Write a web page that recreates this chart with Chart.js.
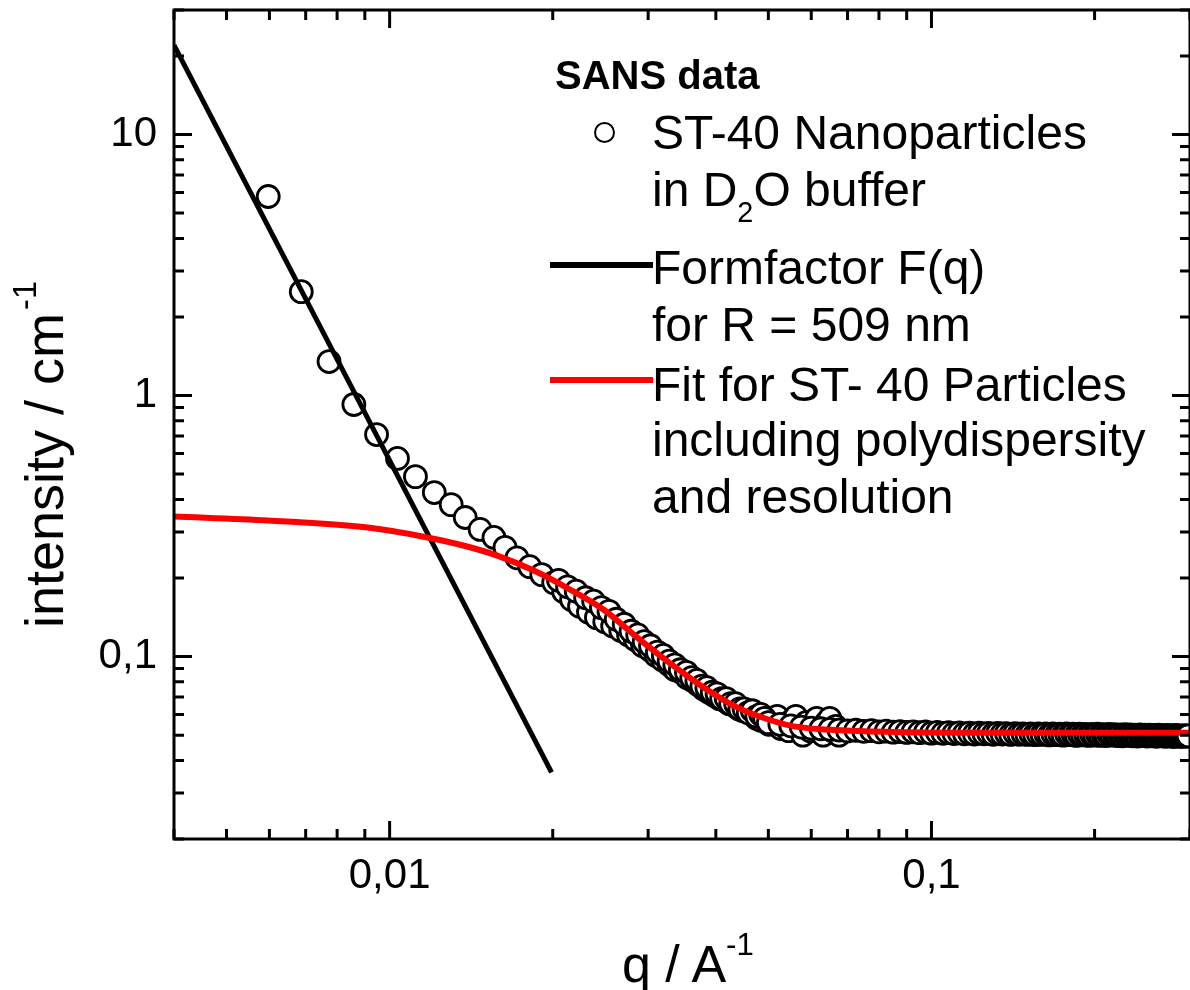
<!DOCTYPE html>
<html>
<head>
<meta charset="utf-8">
<script src="https://cdn.jsdelivr.net/npm/chart.js@4.4.1/dist/chart.umd.min.js"></script>
<style>
  html, body { margin: 0; padding: 0; background: #fff; overflow: hidden; }
  #wrap { position: relative; width: 1190px; height: 990px; overflow: hidden; }
  #chart { position: absolute; left: 0; top: 0; }
  .t { position: absolute; font-family: "Liberation Sans", Arial, sans-serif; color: #000; white-space: nowrap; line-height: 1; }
  .leg { font-size: 48px; left: 652px; }
  .sup { font-size: 0.6em; vertical-align: 27px; line-height: 0; }
  .sub { font-size: 0.6em; vertical-align: -16px; line-height: 0; }
  .sym { position: absolute; left: 550px; width: 103px; height: 6px; }
</style>
</head>
<body>
<div id="wrap">
  <canvas id="chart" width="1190" height="990" style="width:1190px;height:990px"></canvas>

  <!-- legend -->
  <div class="t" style="left:555px;top:55px;font-size:40px;font-weight:bold">SANS data</div>
  <div style="position:absolute;left:594px;top:122px;width:17px;height:17px;border:2.6px solid #000;border-radius:50%"></div>
  <div class="t leg" style="top:109px">ST-40 Nanoparticles</div>
  <div class="t leg" style="top:166px">in D<span class="sub">2</span>O buffer</div>
  <div class="sym" style="top:262px;background:#000"></div>
  <div class="t leg" style="top:244px">Formfactor F(q)</div>
  <div class="t leg" style="top:301px">for R = 509 nm</div>
  <div class="sym" style="top:377px;background:#ff0000"></div>
  <div class="t leg" style="top:361px">Fit for ST- 40 Particles</div>
  <div class="t leg" style="top:416px">including polydispersity</div>
  <div class="t leg" style="top:473px">and resolution</div>

  <!-- axis titles -->
  <div class="t" style="left:622px;top:938px;font-size:52px">q / A<span class="sup">-1</span></div>
  <div class="t" style="left:17px;top:628px;font-size:54px;transform-origin:0 0;transform:rotate(-90deg)">intensity / cm<span class="sup" style="margin-left:3px">-1</span></div>
</div>

<script>
// SANS data (q in 1/A, intensity in 1/cm), three detector runs one after the other
const sansQ = [
  0.00597, 0.00687, 0.00773, 0.00859, 0.00946, 0.01034, 0.01116, 0.01209, 0.01299, 0.01379,
  0.01469, 0.01558, 0.01633, 0.01718, 0.01814, 0.01909, 0.02008, 0.02095, 0.02167, 0.02241,
  0.02328, 0.02408, 0.02495, 0.0258, 0.0267, 0.0276, 0.0284, 0.0293, 0.0302, 0.0310,
  0.0319, 0.0328, 0.0336, 0.0345, 0.0354, 0.0362, 0.0371, 0.0380, 0.0388, 0.0397,
  0.0406, 0.0414, 0.0423, 0.0432, 0.0441, 0.0449, 0.0458, 0.0467, 0.0475, 0.0484,
  0.0493, 0.0501, 0.0510, 0.0519, 0.0527, 0.0536, 0.0545, 0.0553, 0.0562, 0.0571,
  0.0579, 0.0588, 0.0597, 0.0605, 0.0614, 0.0623, 0.0631, 0.0640, 0.0649, 0.0657,
  0.0666, 0.0675,
  0.0205, 0.0213, 0.0221, 0.0230, 0.0238, 0.0246, 0.0254, 0.0262, 0.0271, 0.0279,
  0.0287, 0.0295, 0.0303, 0.0312, 0.0320, 0.0328, 0.0336, 0.0344, 0.0353, 0.0361,
  0.0369, 0.0377, 0.0385, 0.0394, 0.0402, 0.0410, 0.0418, 0.0426, 0.0435, 0.0443,
  0.0451, 0.0459, 0.0467, 0.0476, 0.0484, 0.0492,
  0.0500, 0.0525, 0.0550, 0.0575, 0.0600, 0.0625, 0.0650, 0.0675, 0.0700, 0.0725,
  0.0750, 0.0775, 0.0800, 0.0825, 0.0850, 0.0875, 0.0900, 0.0925, 0.0950, 0.0975,
  0.1000, 0.1025, 0.1050, 0.1075, 0.1100, 0.1125, 0.1150, 0.1175, 0.1200, 0.1225,
  0.1250, 0.1275, 0.1300, 0.1325, 0.1350, 0.1375, 0.1400, 0.1425, 0.1450, 0.1475,
  0.1500, 0.1525, 0.1550, 0.1575, 0.1600, 0.1625, 0.1650, 0.1675, 0.1700, 0.1725,
  0.1750, 0.1775, 0.1800, 0.1825, 0.1850, 0.1875, 0.1900, 0.1925, 0.1950, 0.1975,
  0.2000, 0.2025, 0.2050, 0.2075, 0.2100, 0.2125, 0.2150, 0.2175, 0.2200, 0.2225,
  0.2250, 0.2275, 0.2300, 0.2325, 0.2350, 0.2375, 0.2400, 0.2425, 0.2450, 0.2475,
  0.2500, 0.2525, 0.2550, 0.2575, 0.2600, 0.2625, 0.2650, 0.2675, 0.2700, 0.2725,
  0.2750, 0.2775, 0.2800, 0.2825, 0.2850, 0.2875, 0.2900, 0.2925, 0.2950, 0.2975
];
const sansI = [
  5.79, 2.50, 1.35, 0.924, 0.709, 0.574, 0.489, 0.425, 0.382, 0.341,
  0.307, 0.286, 0.262, 0.239, 0.221, 0.206, 0.192, 0.177, 0.165, 0.156,
  0.148, 0.141, 0.136, 0.131, 0.126, 0.121, 0.116, 0.110, 0.106, 0.101,
  0.097, 0.093, 0.089, 0.087, 0.083, 0.081, 0.078, 0.075, 0.073, 0.071,
  0.069, 0.068, 0.066, 0.065, 0.063, 0.062, 0.061, 0.060, 0.058, 0.057,
  0.058, 0.055, 0.056, 0.059, 0.053, 0.055, 0.052, 0.057, 0.059, 0.053,
  0.050, 0.056, 0.052, 0.054, 0.058, 0.052, 0.050, 0.056, 0.058, 0.052,
  0.054, 0.050,
  0.196, 0.185, 0.178, 0.168, 0.163, 0.154, 0.149, 0.139, 0.133, 0.125,
  0.121, 0.114, 0.110, 0.104, 0.101, 0.096, 0.093, 0.089, 0.087, 0.083,
  0.081, 0.077, 0.076, 0.073, 0.072, 0.069, 0.069, 0.066, 0.066, 0.063,
  0.063, 0.061, 0.062, 0.059, 0.060, 0.058,
  0.0558, 0.0550, 0.0543, 0.0537, 0.0532, 0.0529, 0.0526, 0.0523, 0.0519, 0.0522,
  0.0517, 0.0520, 0.0515, 0.0518, 0.0513, 0.0516, 0.0512, 0.0515, 0.0511, 0.0514,
  0.0509, 0.0512, 0.0508, 0.0511, 0.0507, 0.0510, 0.0506, 0.0509, 0.0505, 0.0509,
  0.0506, 0.0508, 0.0504, 0.0508, 0.0505, 0.0507, 0.0503, 0.0507, 0.0504, 0.0506,
  0.0503, 0.0506, 0.0502, 0.0505, 0.0503, 0.0506, 0.0501, 0.0505, 0.0502, 0.0504,
  0.0500, 0.0505, 0.0502, 0.0504, 0.0499, 0.0504, 0.0501, 0.0503, 0.0499, 0.0503,
  0.0500, 0.0504, 0.0499, 0.0502, 0.0498, 0.0503, 0.0500, 0.0502, 0.0498, 0.0501,
  0.0497, 0.0502, 0.0499, 0.0501, 0.0497, 0.0500, 0.0496, 0.0501, 0.0498, 0.0500,
  0.0496, 0.0500, 0.0497, 0.0499, 0.0495, 0.0500, 0.0497, 0.0498, 0.0495, 0.0499,
  0.0496, 0.0498, 0.0494, 0.0499, 0.0496, 0.0497, 0.0494, 0.0498, 0.0495, 0.0497
];

// Formfactor F(q) for R = 509 nm (straight q^-4 line on log-log)
const formQ = [0.004, 0.0199];
const formI = [22.0, 0.036];

// fit including polydispersity and resolution
const fitQ = [0.004, 0.00597, 0.00911, 0.01174, 0.0139, 0.01598, 0.01845, 0.0212, 0.0248,
  0.0285, 0.0328, 0.0378, 0.0435, 0.0500, 0.0561, 0.0692, 0.125, 0.3];
const fitI = [0.344, 0.332, 0.312, 0.286, 0.264, 0.2416, 0.2136, 0.1838, 0.1514,
  0.1193, 0.0948, 0.0767, 0.0643, 0.0574, 0.0539, 0.0521, 0.0511, 0.0511];

// axis ticks and labels
const xTicks = [0.004, 0.005, 0.006, 0.007, 0.008, 0.009, 0.01, 0.02, 0.03, 0.04, 0.05,
  0.06, 0.07, 0.08, 0.09, 0.1, 0.2, 0.3];
const yTicks = [0.02, 0.03, 0.04, 0.05, 0.06, 0.07, 0.08, 0.09, 0.1, 0.2, 0.3, 0.4, 0.5,
  0.6, 0.7, 0.8, 0.9, 1, 2, 3, 4, 5, 6, 7, 8, 9, 10, 20, 30];
const xLabelValues = [0.01, 0.1];
const xLabelTexts = ['0,01', '0,1'];
const yLabelValues = [0.1, 1, 10];
const yLabelTexts = ['0,1', '1', '10'];

const toPoints = (qs, is) => qs.map((q, i) => ({ x: q, y: is[i] }));
const isMajor = v => Math.abs(Math.log10(v) - Math.round(Math.log10(v))) < 1e-6;
const labelFor = (vals, texts) => v => {
  const k = vals.findIndex(a => Math.abs(a - v) / a < 1e-6);
  return k >= 0 ? texts[k] : '';
};

// inward ticks on all four sides plus the box
const framePlugin = {
  id: 'frame',
  afterDraw(chart) {
    const { ctx, chartArea: a, scales } = chart;
    ctx.save();
    ctx.strokeStyle = '#000';
    ctx.lineWidth = 3;
    ctx.lineCap = 'butt';
    ctx.beginPath();
    xTicks.forEach(v => {
      const px = scales.x.getPixelForValue(v);
      const len = isMajor(v) ? 18 : 10;
      ctx.moveTo(px, a.bottom); ctx.lineTo(px, a.bottom - len);
      ctx.moveTo(px, a.top); ctx.lineTo(px, a.top + len);
    });
    yTicks.forEach(v => {
      const py = scales.y.getPixelForValue(v);
      const len = isMajor(v) ? 18 : 10;
      ctx.moveTo(a.left, py); ctx.lineTo(a.left + len, py);
      ctx.moveTo(a.right, py); ctx.lineTo(a.right - len, py);
    });
    ctx.stroke();
    ctx.strokeRect(a.left, a.top, a.right - a.left, a.bottom - a.top);
    ctx.restore();
  }
};

const tickFont = { family: '"Liberation Sans", Arial, sans-serif', size: 42 };

new Chart(document.getElementById('chart'), {
  type: 'scatter',
  data: {
    datasets: [
      {
        label: 'Fit for ST- 40 Particles',
        data: toPoints(fitQ, fitI),
        showLine: true,
        borderColor: '#ff0000',
        borderWidth: 6,
        pointRadius: 0,
        cubicInterpolationMode: 'monotone',
        order: 1
      },
      {
        label: 'Formfactor F(q)',
        data: toPoints(formQ, formI),
        showLine: true,
        borderColor: '#000',
        borderWidth: 5,
        pointRadius: 0,
        order: 2
      },
      {
        label: 'ST-40 Nanoparticles in D2O buffer',
        data: toPoints(sansQ, sansI),
        pointRadius: 11,
        pointBorderWidth: 2.8,
        borderColor: '#000',
        backgroundColor: '#fff',
        order: 3
      }
    ]
  },
  options: {
    responsive: false,
    animation: false,
    devicePixelRatio: 1,
    events: [],
    // the right frame sits just outside the picture, as in the original
    layout: { autoPadding: false, padding: { left: 0, top: 10, right: -7, bottom: 0 } },
    plugins: { legend: { display: false }, tooltip: { enabled: false } },
    scales: {
      x: {
        type: 'logarithmic',
        min: 0.004,
        max: 0.3,
        afterBuildTicks(s) { s.ticks = xTicks.map(v => ({ value: v })); },
        afterFit(s) { s.height = 151; s.paddingLeft = 0; s.paddingRight = 0; },
        grid: { display: false, drawTicks: false },
        border: { display: false },
        ticks: {
          autoSkip: false, maxRotation: 0, padding: 12, color: '#000', font: tickFont,
          callback: labelFor(xLabelValues, xLabelTexts)
        }
      },
      y: {
        type: 'logarithmic',
        min: 0.02,
        max: 30,
        afterBuildTicks(s) { s.ticks = yTicks.map(v => ({ value: v })); },
        afterFit(s) { s.width = 174; s.paddingTop = 0; s.paddingBottom = 0; },
        grid: { display: false, drawTicks: false },
        border: { display: false },
        ticks: {
          autoSkip: false, padding: 17, color: '#000', font: tickFont,
          callback: labelFor(yLabelValues, yLabelTexts)
        }
      }
    }
  },
  plugins: [framePlugin]
});
</script>
</body>
</html>
